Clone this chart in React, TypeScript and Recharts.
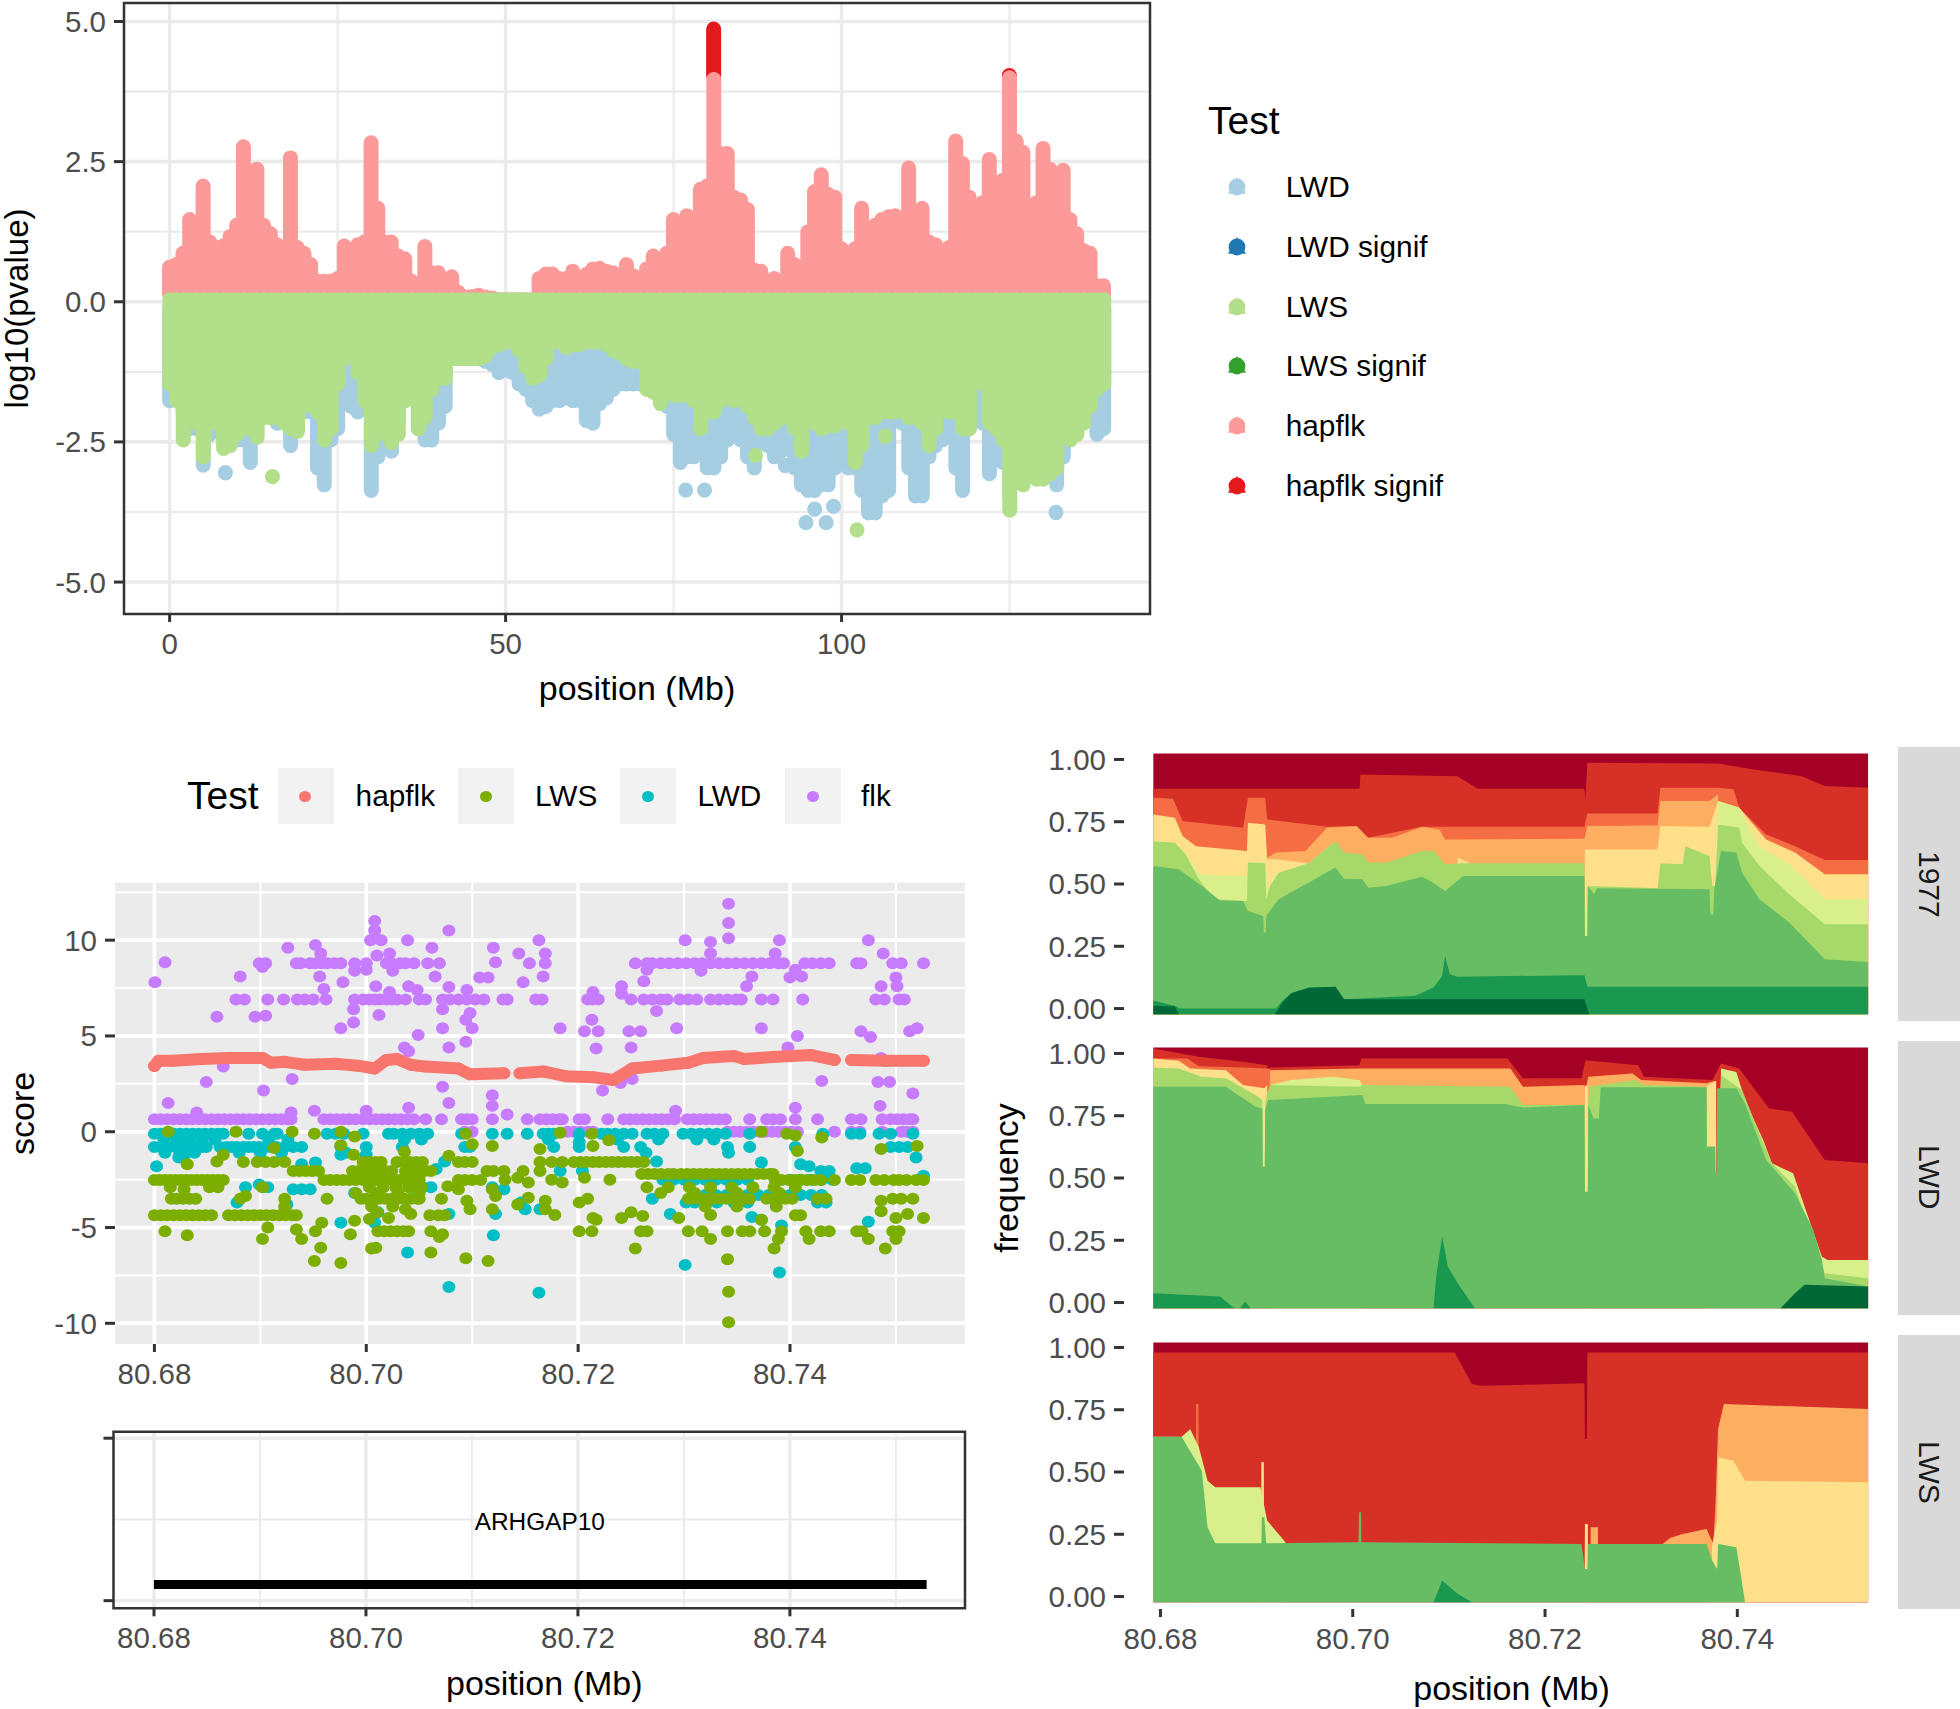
import React from "react";
import {
  Area, Bar, CartesianGrid, ComposedChart, Line, ReferenceArea, ReferenceDot, Scatter, ScatterChart, XAxis, YAxis,
} from "recharts";

const FONT = "'Liberation Sans', Arial, sans-serif";

// ---- genome wide panel: outer edge of the cloud of points per Mb (0..139)
const hapflkTop = [
  0.75, 0.8, 1.0, 1.6, 1.5, 2.2, 1.2, 1.1, 1.13, 1.3,
  1.5, 2.9, 2.3, 2.5, 1.5, 1.35, 1.15, 1.0, 2.7, 1.1,
  1.0, 0.8, 0.5, 0.5, 0.5, 0.55, 1.13, 1.0, 1.15, 1.2,
  2.97, 1.8, 1.2, 1.2, 0.95, 0.9, 0.5, 0.35, 1.12, 0.65,
  0.65, 0.5, 0.58, 0.3, 0.22, 0.23, 0.25, 0.22, 0.2, 0.17,
  0.17, 0.17, 0.17, 0.17, 0.17, 0.55, 0.63, 0.63, 0.55, 0.55,
  0.68, 0.55, 0.62, 0.72, 0.73, 0.68, 0.65, 0.6, 0.8, 0.6,
  0.35, 0.72, 0.95, 0.7, 1.0, 1.6, 1.4, 1.67, 1.5, 2.14,
  2.2, 4.1, 2.78, 2.78, 2.0, 1.95, 1.78, 0.7, 0.68, 0.5,
  0.55, 0.5, 1.0, 0.8, 0.75, 1.38, 2.1, 2.4, 2.05, 2.0,
  1.08, 0.9, 1.08, 1.8, 1.45, 1.5, 1.6, 1.65, 1.67, 1.5,
  2.52, 1.7, 1.8, 1.2, 1.15, 0.6, 1.1, 3.0, 2.6, 2.0,
  1.83, 1.9, 2.67, 2.0, 2.3, 4.13, 3.0, 2.8, 1.85, 1.9,
  2.87, 2.5, 2.3, 2.48, 1.6, 1.35, 1.05, 1.0, 0.42, 0.42,
];
const lwsBottom = [
  -1.6, -1.9, -2.6, -2.2, -2.3, -2.9, -2.3, -2.3, -2.75, -2.7,
  -2.5, -2.4, -2.4, -2.55, -2.2, -2.2, -2.2, -2.3, -2.4, -2.45,
  -1.9, -2.0, -2.1, -2.6, -2.4, -1.6, -1.15, -1.05, -1.4, -1.9,
  -2.7, -2.5, -2.2, -2.65, -2.5, -1.9, -1.85, -2.4, -2.2, -1.7,
  -1.5, -1.5, -1.15, -1.15, -1.15, -1.15, -1.15, -1.1, -0.95, -0.9,
  -0.85, -0.85, -1.0, -1.3, -1.5, -1.45, -1.15, -0.85, -0.85, -0.95,
  -0.9, -0.9, -0.85, -0.85, -0.85, -0.9, -1.0, -1.05, -1.15, -1.2,
  -1.2, -1.7, -1.75, -1.95, -1.7, -1.8, -1.8, -1.8, -1.9, -2.4,
  -2.1, -2.1, -1.9, -1.8, -1.9, -1.8, -2.0, -2.2, -2.4, -2.4,
  -2.3, -2.2, -2.2, -2.4, -2.8, -2.2, -2.3, -2.4, -2.35, -2.35,
  -2.2, -2.3, -3.0, -2.7, -2.2, -2.2, -2.1, -2.1, -2.1, -2.1,
  -2.2, -2.2, -2.3, -2.7, -2.4, -2.0, -2.1, -2.1, -2.4, -2.4,
  -1.5, -1.6, -2.3, -2.4, -2.6, -3.85, -3.3, -3.4, -3.2, -3.3,
  -3.3, -3.2, -3.1, -2.4, -2.6, -2.5, -2.3, -2.0, -1.7, -1.6,
];
const lwdBottom = [
  -1.9, -1.8, -2.1, -2.4, -2.4, -3.05, -2.5, -2.4, -2.5, -2.5,
  -2.6, -2.6, -3.0, -2.3, -2.1, -2.1, -2.3, -2.2, -2.7, -2.3,
  -2.1, -2.1, -3.1, -3.4, -2.6, -2.4, -1.9, -2.0, -2.1, -2.0,
  -3.5, -2.9, -2.7, -2.8, -2.3, -1.9, -1.8, -2.4, -2.6, -2.6,
  -2.3, -2.0, -1.15, -1.15, -1.15, -1.15, -1.15, -1.2, -1.25, -1.4,
  -1.35, -1.4, -1.6, -1.7, -1.9, -2.05, -2.0, -1.9, -1.9, -1.85,
  -1.9, -1.9, -2.25, -2.3, -1.95, -1.85, -1.7, -1.6, -1.6, -1.6,
  -1.6, -1.6, -1.7, -1.8, -2.0, -2.5, -3.0, -2.9, -2.9, -2.6,
  -3.1, -3.1, -2.9, -2.6, -2.4, -2.6, -2.9, -3.1, -2.6, -2.7,
  -2.9, -2.8, -2.7, -3.1, -3.4, -3.5, -3.5, -3.4, -3.4, -3.1,
  -3.0, -3.1, -3.1, -3.5, -3.9, -3.9, -3.6, -3.5, -2.2, -2.3,
  -3.1, -3.6, -3.6, -2.9, -2.7, -2.6, -2.4, -3.1, -3.5, -2.4,
  -2.1, -2.3, -3.2, -2.9, -3.0, -3.6, -3.0, -2.9, -2.8, -2.8,
  -2.9, -3.0, -3.4, -2.9, -2.5, -2.0, -2.0, -2.1, -2.5, -2.4,
];
const lwsTop = 0.17;
const signifRanges: Record<number, [number, number]> = { 81: [3.9, 5.0], 125: [3.9, 4.17] };
const lwdLoose = [
  { x: 8.3, y: -3.05 }, { x: 76.8, y: -3.36 }, { x: 79.6, y: -3.36 }, { x: 91.6, y: -2.92 },
  { x: 131.9, y: -3.76 }, { x: 94.7, y: -3.94 }, { x: 97.7, y: -3.94 }, { x: 96, y: -3.7 }, { x: 98.8, y: -3.65 },
];
const lwsLoose = [{ x: 15.3, y: -3.12 }, { x: 102.3, y: -4.07 }, { x: 87.2, y: -2.74 }, { x: 106.5, y: -2.4 }];

const manhattanRows = hapflkTop.map((top, i) => ({
  x: i,
  signif: signifRanges[i] ?? null,
  hapflk: [0, top],
  lwd: [lwdBottom[i], 0],
  lws: [lwsBottom[i], lwsTop],
}));

// ---- zoomed score panel, positions in kb after 80.68 Mb
const flkRows: [number, number[]][] = [
  [8.8, [9.9, 10.5, 13.4, 13.8, 14.7, 15.2, 15.8, 16.3, 17, 17.6, 18.9, 20, 21.9, 22.4, 23.2, 23.7, 24.5, 25.8, 26.9,
    45.4, 46.5, 47, 47.8, 48.6, 49.4, 50.2, 51, 51.7, 52.5, 53.3, 54.1, 54.9, 55.7, 56.5, 57.3, 58.1, 58.9, 59.4,
    61.4, 62.1, 62.9, 63.7, 66.3, 66.7, 69.7, 70.5, 72.6]],
  [6.9, [7.7, 8.5, 10.7, 12.2, 13.5, 14.2, 15, 16.2, 18.9, 19.7, 20.3, 20.8, 21.3, 21.9, 22.4, 22.9, 23.7, 25, 25.6,
    27.2, 27.9, 28.7, 29.5, 30.3, 31.1, 32.9, 33.3, 36, 36.6, 40.9, 41.4, 41.9, 45, 46.2, 47, 47.8, 48.4, 49.6, 50.4,
    51.2, 52.5, 53.3, 54.1, 54.9, 55.4, 57.3, 58.4, 61.2, 68.1, 68.9, 70.3, 70.8]],
  [0.65, [0, 0.6, 1.2, 1.8, 2.4, 3, 3.6, 4.2, 4.8, 5.4, 6, 6.6, 7.2, 7.8, 8.4, 9, 9.6, 10.2, 10.8, 11.4, 12, 12.6, 12.9,
    16, 16.6, 17.2, 17.8, 18.4, 19, 19.7, 20.3, 20.9, 21.5, 22.1, 22.7, 23.3, 23.9, 24.5, 25.6, 27.1, 29, 29.5, 30,
    31.9, 35.2, 36.4, 37, 37.6, 38.2, 38.5, 40.1, 40.6, 42.8, 44.3, 44.9, 45.5, 46.1, 46.7, 47.3, 47.9, 48.5, 49.1,
    50.3, 50.9, 51.5, 52.1, 52.7, 53.3, 53.9, 56.2, 57.8, 58.4, 59.1, 60.5, 62.6, 65.8, 66.7, 68.7, 69.5, 70.1, 70.7,
    71.3, 71.6]],
  [0, [29.3, 30, 39, 39.6, 40.2, 40.9, 41.4, 54.1, 54.7, 55.3, 55.9, 56.5, 57.1, 57.7, 58.3, 58.9, 59.5, 60.1, 60.7,
    64.2, 65.8, 66.6, 68.7, 70.5, 71, 71.6]],
];
const flkLoose: [number, number][] = [
  [0.05, 7.8], [1, 8.85], [8.1, 8.1], [12.6, 9.6], [15.2, 9.75], [15.7, 9.3], [15.6, 8.1], [16, 7.45], [17.8, 7.8],
  [5.9, 6], [9.5, 6], [10.5, 6.05], [10.2, 8.6], [17.6, 5.4], [18.8, 5.7], [18.8, 6.4], [18.9, 8.4], [20, 8.45],
  [20.8, 11], [20.8, 10.5], [20.4, 10], [21.4, 10], [21, 9.2], [22.2, 9.3], [22.5, 8.4], [21.2, 6.1], [20.9, 7.6],
  [22.2, 7.3], [23.9, 10], [24, 7.6], [24.8, 7.4], [26.2, 9.6], [26.5, 8.1], [27.8, 10.5], [27.8, 7.55], [27.2, 6.4],
  [27.2, 5.4], [24.9, 5.05], [27.8, 4.4], [23.6, 4.4], [24, 4.2], [29.4, 4.7], [29.4, 5.85], [30, 5.4], [29.8, 6.2],
  [29.5, 7.4], [30.7, 8.05], [31.5, 8.05], [32, 9.6], [32.2, 8.85], [34.4, 9.3], [34.8, 7.8], [35.4, 8.8], [36.3, 10],
  [36.9, 9.3], [36.7, 8.1], [36.9, 8.8], [38.3, 5.4], [40.6, 5.25], [41.9, 5.25], [41.7, 4.35], [41.3, 5.85], [41.4, 7.3],
  [44.1, 7.6], [44.1, 7.2], [44.8, 5.25], [45.9, 5.25], [45, 4.4], [47.4, 6.3], [49.3, 5.4], [46.2, 7.85], [46.5, 8.45],
  [50.1, 10], [52.5, 9.9], [54.2, 11.9], [54.2, 10.9], [54.2, 10.1], [59, 10], [52.5, 9.3], [51.6, 8.4], [55.9, 7.6],
  [56.4, 8.1], [57.3, 5.4], [59.8, 4.4], [60.7, 5], [60, 8.05], [60.5, 8.45], [61.1, 8.1], [58.6, 9.3], [67.4, 10],
  [68.8, 9.3], [70, 8.05], [68.6, 7.6], [70.1, 7.6], [66.7, 5.25], [67.6, 4.95], [71.3, 5.25], [72, 5.4], [68.6, 3.85],
  [6.5, 3.4], [4.9, 2.6], [13, 2.75], [10.3, 2.15], [1.3, 1.5], [15.1, 1.1], [20, 1.1], [24, 1.25], [27.2, 2.35],
  [27.8, 1.5], [31.9, 1.9], [31.9, 1.35], [33.3, 0.9], [42.3, 2.15], [44, 2.55], [45.1, 2.75], [49.2, 1.1], [60.5, 1.25],
  [63, 2.65], [68.3, 2.6], [69.4, 2.6], [71.6, 2], [68.5, 1.35], [4, 1], [12.9, 1],
];
const lwdRows: [number, number[]][] = [
  [-0.1, [0, 0.6, 1.2, 1.8, 2.4, 3, 3.6, 4.2, 4.8, 5.4, 6, 6.5, 8.9, 10.2, 11.3, 11.6, 16.3, 17.1, 17.9, 19.7, 22.1, 22.6,
    23.4, 24.2, 25, 25.8, 29, 31.9, 33.3, 35.2, 36.7, 37.2, 37.7, 40.1, 42.2, 42.8, 43.5, 44.3, 45.1, 46.5, 47.2, 48,
    49.9, 50.7, 51.5, 52.3, 53.1, 53.9, 56.2, 63.1, 65.8, 66.6, 68.4, 69.5, 71.6]],
  [-0.4, [0.9, 2.1, 3.3, 4.5, 5.7, 10.8, 12.6, 23.6, 25.2, 37.2, 43.7, 47.6, 51.2, 52.8]],
  [-0.8, [0, 0.6, 1.3, 2, 2.7, 3.3, 4, 4.5, 4.9, 6.2, 6.8, 7.3, 7.8, 8.4, 8.9, 9.4, 9.9, 10.5, 11, 11.5, 12.3, 13.1, 13.9,
    17.6, 20, 23.4, 29.3, 29.8, 37.7, 40.1, 44.3, 45.9, 54.1, 56.2, 60.5, 69.5, 70.3, 71.1]],
  [-1.1, [1, 2.4, 3.8, 8, 10, 12, 46.4, 54.2]],
  [-2.5, [48, 49, 50, 51, 52, 53, 54, 55, 56, 60, 61, 62, 63, 64]],
  [-3.3, [52, 53, 54, 55, 56, 57, 58, 59, 60, 61, 62, 63]],
];
const lwdLooseScores: [number, number][] = [
  [0.2, -1.8], [2.8, -1.25], [2.3, -1.35], [13.9, -1.7], [15.2, -1.6], [17.6, -1.2], [18.1, -1.1], [20, -1.2],
  [26.6, -1.95], [27.4, -1.55], [38.3, -2.05], [40.1, -0.55], [40.4, -2.05], [47.4, -1.55], [57.3, -1.6], [61, -1.7],
  [61.8, -1.8], [62.9, -2.05], [63.7, -2.05], [66.3, -1.9], [67.1, -1.9], [71.9, -1.35], [72.6, -2.3],
  [8.6, -2.9], [9.9, -2.75], [10.7, -2.9], [13.1, -3], [13.9, -3], [14.7, -3], [18.9, -3.2], [24.5, -2.9], [25.3, -2.9],
  [26.1, -2.9], [31.9, -2.9], [33, -3], [63.1, -3.45], [62.6, -3.45], [7.8, -3.7], [12.5, -3.8], [47, -3.5], [50.2, -3.7],
  [51, -3.7], [52, -3.7], [53.1, -3.7], [54.7, -3.7], [56, -3.7], [62.6, -3.7], [63.4, -3.7], [34.6, -3.7], [35, -4.05],
  [36.4, -4.05], [17.6, -4.75], [20.8, -4.75], [21.1, -4.2], [27.8, -4.3], [32.2, -4.3], [32, -5.4], [23.9, -6.3],
  [27.8, -8.1], [36.3, -8.4], [50.1, -6.95], [59, -7.35], [48.7, -4.3], [56.4, -4.45], [59.2, -4.9], [67.4, -4.7],
  [57.3, -4.6],
];
const lwsRows: [number, number[]][] = [
  [-1.58, [8.4, 9.7, 10.5, 11.3, 12.3, 39.6, 40.2, 40.8, 41.4, 42, 42.6, 43.2, 43.8, 44.4, 45, 45.6, 46.2, 19.7, 20.3, 20.9,
    21.4, 22.9, 23.5, 24.1, 24.7, 25.3, 28.7, 29.3, 30, 36.4, 37.5, 38.5]],
  [-2.05, [13.1, 13.7, 14.3, 14.9, 15.5, 18.7, 19.3, 20, 20.6, 21.2, 21.8, 22.4, 23.7, 24.3, 24.9, 25.5, 26.1, 31.4, 32, 33,
    34.8, 36.4]],
  [-2.2, [46, 46.6, 47.2, 47.8, 48.5, 49, 49.7, 50.3, 50.9, 51.5, 52.1, 52.7, 53.3, 53.9, 54.5, 55.1, 55.7, 56.3, 56.9, 57.5,
    58.1, 58.4]],
  [-2.52, [0, 0.5, 1, 1.5, 2, 2.5, 3, 3.5, 4, 4.5, 5, 5.5, 6, 6.5, 16, 16.6, 17.2, 17.8, 18.4, 19, 19.7, 20.3, 21, 21.7,
    22.5, 23.1, 24, 24.5, 25, 28.7, 29.3, 30, 30.8, 61, 61.6, 62.3, 62.9, 64.2, 65.8, 66.6, 68.1, 68.9, 69.8, 70.3, 71,
    71.9, 72.6, 58.6, 59.2, 59.9, 60.5]],
  [-2.9, [20.3, 21.6, 22.8, 24, 25.2, 46.5, 48.5, 50.5, 52.5, 54.5, 56.5, 58.5, 60.5]],
  [-3.2, [19, 21, 23, 25, 47.8, 51, 55, 59]],
  [-3.5, [1.6, 2.1, 2.7, 3.3, 3.9, 8.1, 12.3, 16.3, 19.5, 20, 20.6, 21.2, 21.8, 22.4, 23, 23.6, 24.2, 24.8, 25, 27.1, 50.4,
    51, 51.6, 52.2, 52.8, 53.4, 54, 54.6, 55.2, 55.8, 56.2, 57.8, 58.4, 59, 59.6, 60.2, 62.6, 63.4, 69.7, 70.5, 71.6]],
  [-3.9, [20.5, 22.5, 52, 55, 58.7]],
  [-4.36, [0, 0.6, 1.2, 1.8, 2.4, 3, 3.6, 4.2, 4.8, 5.4, 7, 7.6, 8.2, 8.8, 9.4, 10, 10.6, 11.2, 11.8, 12.4, 13, 13.4, 26,
    26.8, 27.4, 60.5, 61]],
  [-5.2, [21.1, 21.7, 22.3, 22.9, 23.5, 24, 1, 40.1, 41.3, 45.9, 46.5, 50.4, 51.7, 54.1, 55.5, 56.2, 57.6, 59.2, 61.5, 62.9,
    63.7, 66.3, 66.8, 69.7, 70.3]],
];
const lwsLooseScores: [number, number][] = [
  [3.1, -5.4], [1.3, 0], [7.7, 0], [13, 0], [15.1, -0.1], [17.6, 0], [18.9, -0.25], [29.4, -0.1], [38.3, -0.05], [41.3, -0.1],
  [42.9, -0.45], [57.3, 0], [59.7, -0.1], [60.5, -0.2], [63, -0.3], [11.3, -0.85], [17.6, -0.7], [18.8, -1.2], [23.6, -1.05],
  [27.8, -1.25], [30, -0.65], [31.9, -0.75], [36.4, -0.9], [41.4, -0.75], [60.7, -1], [72, -0.75], [68.6, -0.9], [5.9, -1.55],
  [6.5, -1.2], [3.1, -1.7], [8.6, -3.35], [10.2, -2.9], [1.5, -2.9], [2.8, -3], [5.2, -2.9], [6, -2.9], [12.3, -3.9],
  [15.1, -6.75], [17.6, -6.85], [15.7, -6.05], [15.2, -5.2], [15.8, -4.75], [10.2, -5.6], [10.7, -5], [13.9, -5.6],
  [13.4, -5.1], [18.5, -5.35], [20.5, -6.1], [20.9, -6.05], [26.1, -6.3], [29.4, -6.6], [31.5, -6.75], [26.9, -5.5],
  [27.2, -5.35], [26.1, -5.2], [45.4, -6.1], [52.5, -5.6], [54.1, -6.65], [54.2, -8.35], [54.2, -9.95], [58.5, -6.1],
  [58.9, -5.6], [61.8, -5.6], [69, -6.1], [67.4, -5.6], [70, -5.6], [72.6, -4.5], [37.8, -4.35], [38.5, -2.65], [40.1, -3.7],
  [40.9, -3.5], [41.4, -4.5], [41.7, -4.6], [44.1, -4.5], [45, -4.2], [46.1, -4.4], [49.5, -4.5], [52.5, -4.35], [57.3, -4.6],
  [68.6, -4.15], [70, -4.5], [71.1, -4.3], [68.6, -3.6], [29.8, -4.05], [29.5, -3.6], [31.9, -4.05], [32.2, -3.35], [34.3, -3.8],
  [35.3, -3.45], [36.9, -3.6], [36.9, -4.05], [23.7, -4.05], [24.2, -4.3], [22.1, -4.5], [21, -4.2], [20.3, -4.55], [18.9, -4.65],
  [35.3, -2.65], [31.9, -3], [28.7, -3], [27.7, -2.85], [33.1, -2.5], [34.3, -2.4], [37.5, -2.5], [40.6, -2.4], [43, -2.5],
];
const hapflkPartA: [number, number][] = [
  [0, 3.43], [0.4, 3.7], [1.8, 3.7], [4.4, 3.8], [7, 3.85], [10.2, 3.85], [11, 3.6], [12.3, 3.65], [14.2, 3.5], [17.1, 3.55],
  [19.2, 3.45], [20.8, 3.3], [21.9, 3.75], [22.9, 3.8], [24.2, 3.5], [25.6, 3.4], [28.7, 3.3], [29.8, 3], [33, 3.05],
];
const hapflkPartB: [number, number][] = [
  [34.5, 3.05], [36.7, 3.15], [38.8, 2.9], [41.4, 2.85], [43.3, 2.7], [45.1, 3.3], [47.8, 3.45], [50.4, 3.6], [51.8, 3.85],
  [54.7, 3.95], [55.7, 3.8], [58.4, 3.9], [62, 4], [64.2, 3.75],
];
const hapflkPartC: [number, number][] = [[65.8, 3.75], [69, 3.7], [72.6, 3.7]];

const toMb = (kb: number) => 80.68 + kb / 1000;
const toPoints = (rows: [number, number[]][], loose: [number, number][]) => [
  ...rows.flatMap(([y, list]) => list.map((kb) => ({ x: toMb(kb), y }))),
  ...loose.map(([kb, y]) => ({ x: toMb(kb), y })),
];

// ---- allele frequency panels: top edge of each band, [kb after 80.68, frequency]
const bandColors = ["#a50026", "#d73027", "#f46d43", "#fdae61", "#fee08b", "#d9ef8b", "#a6d96a", "#66bd63", "#1a9850", "#006837"];
type Edge = [number, number][];
const bands1977: Edge[] = [
  [[-0.74, 1.024], [73.6, 1.024]],
  [[-0.74, 0.882], [20.7, 0.882], [20.8, 0.94], [30.9, 0.933], [33, 0.882], [44.1, 0.882], [44.2, 0.84], [44.4, 0.987], [58, 0.984], [61.7, 0.96], [66.7, 0.933], [69.1, 0.893], [73.6, 0.886]],
  [[-0.74, 0.846], [1.3, 0.842], [2.3, 0.753], [8.6, 0.726], [9.1, 0.846], [10.9, 0.846], [11.1, 0.759], [17.3, 0.73], [20.4, 0.733], [21.6, 0.686], [27.2, 0.73], [44.1, 0.73], [44.4, 0.783], [51.7, 0.783], [52, 0.886], [58, 0.886], [59.6, 0.88], [60.2, 0.806], [63, 0.699], [66, 0.652], [69.1, 0.596], [73.6, 0.596]],
  [[-0.74, 0.4], [11, 0.4], [11.1, 0.606], [12, 0.626], [15.1, 0.632], [17.3, 0.726], [20.4, 0.733], [21.6, 0.686], [24.1, 0.686], [27.2, 0.73], [29, 0.719], [29.6, 0.679], [31.5, 0.679], [44.1, 0.682], [44.4, 0.733], [51.7, 0.735], [52, 0.833], [57.1, 0.833], [58, 0.86], [58.1, 0.4], [73.6, 0.4]],
  [[-0.74, 0.779], [1.5, 0.766], [2.3, 0.693], [3.7, 0.652], [9, 0.632], [9.1, 0.746], [10.9, 0.739], [11.1, 0.599], [12, 0.599], [15.4, 0.583], [15.5, 0.4], [30.9, 0.4], [30.9, 0.606], [32.1, 0.586], [32.2, 0.4], [44.1, 0.4], [44.15, 0.639], [51.7, 0.639], [52, 0.733], [57.1, 0.73], [58, 0.833], [60.2, 0.806], [63, 0.679], [66, 0.626], [69.1, 0.539], [73.6, 0.539]],
  [[-0.74, 0.672], [1.5, 0.666], [2.6, 0.626], [4, 0.54], [5.6, 0.535], [9, 0.532], [9.1, 0.586], [10.9, 0.586], [11.1, 0.479], [12, 0.539], [15.4, 0.583], [18.2, 0.672], [19.1, 0.4], [57.7, 0.4], [58, 0.833], [60.2, 0.806], [62.3, 0.652], [65.4, 0.579], [69.1, 0.439], [73.6, 0.439]],
  [[-0.74, 0.672], [1.5, 0.666], [2.6, 0.619], [4, 0.519], [5.6, 0.439], [9, 0.432], [9.1, 0.586], [10.9, 0.583], [11, 0.439], [11.4, 0.492], [12.3, 0.545], [15.4, 0.583], [18.2, 0.672], [19.1, 0.626], [21, 0.619], [21.6, 0.586], [23.5, 0.586], [27.2, 0.632], [28.4, 0.632], [29.6, 0.579], [31.5, 0.583], [44.1, 0.583], [44.15, 0.29], [44.4, 0.29], [44.45, 0.492], [51.7, 0.483], [52, 0.583], [54.3, 0.579], [54.6, 0.652], [57.1, 0.612], [57.4, 0.492], [57.7, 0.492], [58, 0.739], [60.2, 0.726], [60.5, 0.666], [62.3, 0.572], [65.4, 0.459], [69.1, 0.338], [73.6, 0.338]],
  [[-0.74, 0.572], [1.9, 0.559], [4.3, 0.492], [6.2, 0.434], [8.6, 0.432], [9.1, 0.392], [10.7, 0.372], [10.75, 0.305], [10.95, 0.305], [11, 0.372], [12.3, 0.439], [15.4, 0.505], [18.2, 0.566], [19.1, 0.521], [21, 0.519], [21.6, 0.485], [23.5, 0.492], [27.2, 0.529], [28.4, 0.505], [29.6, 0.472], [31.5, 0.532], [44.1, 0.532], [44.15, 0.291], [44.4, 0.291], [44.45, 0.492], [45.1, 0.459], [45.4, 0.483], [57.1, 0.479], [57.2, 0.378], [57.5, 0.378], [57.6, 0.479], [58.3, 0.632], [59.9, 0.626], [60.5, 0.545], [62.3, 0.439], [65.4, 0.345], [69.1, 0.198], [73.6, 0.187]],
  [[-0.74, 0.031], [1.5, 0.011], [2, 0], [12, 0], [12.7, 0.031], [13.6, 0.061], [15.4, 0.083], [18.2, 0.088], [19.1, 0.037], [26.5, 0.051], [28.4, 0.084], [29.3, 0.131], [29.6, 0.211], [30.1, 0.138], [30.9, 0.128], [44.1, 0.134], [44.4, 0.088], [73.6, 0.088]],
  [[-0.74, 0.011], [1.5, 0.008], [1.9, -0.023], [11.9, -0.023], [12.7, 0.024], [13.6, 0.061], [15.4, 0.083], [18.2, 0.088], [19.1, 0.037], [44.1, 0.037], [44.6, -0.023], [73.6, -0.023]],
];
const bandsLwd: Edge[] = [
  [[-0.74, 1.024], [73.6, 1.024]],
  [[-0.74, 1.02], [4, 0.987], [8.6, 0.967], [11.1, 0.953], [11.3, 0.806], [11.4, 0.944], [20.7, 0.953], [20.9, 0.98], [36.1, 0.98], [37.7, 0.9], [43.8, 0.9], [44.2, 0.973], [49.7, 0.953], [50.3, 0.906], [57.4, 0.893], [58.3, 0.96], [60.2, 0.94], [63.3, 0.779], [65.7, 0.766], [69.1, 0.572], [73.6, 0.559]],
  [[-0.74, 0.98], [2.8, 0.98], [4, 0.949], [8.6, 0.944], [11.1, 0.94], [11.4, 0.94], [11.45, -0.023], [73.6, -0.023]],
  [[-0.74, -0.023], [11.1, -0.023], [11.4, 0.933], [20.7, 0.94], [36.4, 0.94], [37.7, 0.866], [44.1, 0.873], [44.2, 0.85], [44.5, 0.906], [49.1, 0.92], [50, 0.893], [56.8, 0.88], [57.7, 0.89], [57.75, -0.023], [73.6, -0.023]],
  [[-0.74, 0.98], [1.9, 0.971], [3.1, 0.94], [6.8, 0.933], [8.6, 0.873], [10.8, 0.86], [11.1, 0.873], [11.15, -0.023], [44.1, -0.023], [44.15, 0.87], [44.45, 0.87], [44.5, -0.023], [56.8, -0.023], [56.85, 0.87], [57.8, 0.89], [57.85, -0.023], [73.6, -0.023]],
  [[-0.74, -0.023], [10.55, -0.023], [10.6, 0.813], [10.8, 0.813], [10.85, -0.023], [11.3, -0.023], [11.4, 0.873], [13.6, 0.893], [17.9, 0.906], [20.7, 0.893], [21, 0.873], [21.1, -0.023], [57.9, -0.023], [58.3, 0.94], [59.9, 0.926], [60.8, 0.813], [62.7, 0.652], [63.6, 0.559], [65.8, 0.519], [68.8, 0.184], [69.4, 0.171], [73.6, 0.171]],
  [[-0.74, 0.944], [1.9, 0.94], [4.3, 0.906], [6.8, 0.9], [9.9, 0.833], [10.6, 0.813], [10.62, 0.5], [10.85, 0.5], [10.9, 0.8], [11.1, 0.84], [11.4, 0.873], [20.7, 0.866], [21.1, 0.873], [36.4, 0.866], [37.7, 0.793], [44.1, 0.793], [44.15, 0.4], [44.45, 0.4], [44.5, 0.793], [44.6, 0.866], [49.4, 0.893], [50.3, 0.873], [56.8, 0.866], [56.85, 0.4], [57.85, 0.4], [58.3, 0.913], [60.5, 0.853], [62.7, 0.639], [63.6, 0.559], [66, 0.465], [68.5, 0.184], [69.1, 0.118], [73.6, 0.098]],
  [[-0.74, 0.866], [6.8, 0.866], [9.9, 0.786], [10.6, 0.779], [10.65, 0.545], [10.85, 0.545], [10.9, 0.773], [11.2, 0.813], [21, 0.833], [21.3, 0.797], [35.8, 0.797], [37.7, 0.783], [44.1, 0.793], [44.15, 0.445], [44.45, 0.445], [44.5, 0.793], [45.05, 0.739], [45.6, 0.739], [45.8, 0.864], [56.8, 0.864], [56.85, 0.626], [57.7, 0.626], [57.75, 0.519], [57.85, 0.519], [57.9, 0.86], [59.9, 0.86], [60.8, 0.799], [63, 0.572], [66, 0.439], [67.9, 0.291], [68.8, 0.171], [69.1, 0.098], [73.6, 0.064]],
  [[-0.74, 0.037], [6.2, 0.024], [7.7, -0.023], [8.3, -0.023], [8.8, 0.004], [9.4, -0.023], [28.4, -0.023], [28.7, 0.111], [29.3, 0.265], [29.9, 0.144], [30.9, 0.078], [32.7, -0.023], [73.6, -0.023]],
  [[-0.74, -0.023], [64.5, -0.023], [66, 0.037], [67, 0.071], [73.6, 0.064]],
];
const bandsLws: Edge[] = [
  [[-0.74, 1.02], [73.6, 1.02]],
  [[-0.74, 0.98], [30.6, 0.98], [32.4, 0.853], [33.3, 0.846], [44.1, 0.856], [44.15, 0.632], [44.35, 0.632], [44.4, 0.98], [73.6, 0.98]],
  [[-0.74, -0.023], [3.65, -0.023], [3.7, 0.773], [3.95, 0.773], [4.1, -0.023], [73.6, -0.023]],
  [[-0.74, -0.023], [44.7, -0.023], [44.75, 0.278], [45.5, 0.278], [45.55, -0.023], [51.9, 0.2], [53, 0.235], [54.3, 0.251], [56.8, 0.271], [57.5, 0.211], [57.7, 0.338], [58, 0.672], [58.6, 0.773], [73.6, 0.753]],
  [[-0.74, -0.023], [10.45, -0.023], [10.5, 0.54], [10.75, 0.54], [10.8, -0.023], [44.1, -0.023], [44.15, 0.291], [44.45, 0.291], [44.5, -0.023], [57.1, -0.023], [57.4, 0.211], [57.9, 0.305], [58, 0.559], [59.6, 0.545], [60.8, 0.465], [73.6, 0.459]],
  [[-0.74, 0.642], [2.2, 0.642], [3.1, 0.672], [4, 0.599], [4.9, 0.465], [5.7, 0.439], [10.4, 0.439], [11.1, 0.305], [13, 0.218], [13.1, -0.023], [73.6, -0.023]],
  [[-0.74, -0.023], [73.6, -0.023]],
  [[-0.74, 0.642], [2.2, 0.642], [4.3, 0.505], [4.9, 0.278], [5.7, 0.214], [10.5, 0.214], [10.55, 0.318], [10.8, 0.318], [11, 0.214], [20.6, 0.218], [20.65, 0.338], [20.85, 0.338], [20.9, 0.218], [43.8, 0.211], [44.15, 0.111], [44.4, 0.111], [44.45, 0.211], [56.8, 0.211], [57.4, 0.144], [57.9, 0.111], [58, 0.211], [59.9, 0.198], [60.4, 0.078], [60.8, -0.023], [73.6, -0.023]],
  [[-0.74, -0.023], [28.4, -0.023], [29.3, 0.064], [30.9, 0.011], [32.4, -0.023], [73.6, -0.023]],
];

const geneSpan = [{ x: 80.68, y: 0.1 }, { x: 80.7529, y: 0.1 }];
const geneLabel = "ARHGAP10";
const topLegend = [
  { name: "LWD", color: "#a6cee3" }, { name: "LWD signif", color: "#1f78b4" },
  { name: "LWS", color: "#b2df8a" }, { name: "LWS signif", color: "#33a02c" },
  { name: "hapflk", color: "#fb9a99" }, { name: "hapflk signif", color: "#e31a1c" },
];
const scoreLegend = [
  { name: "hapflk", color: "#F8766D", box: 277.6, dot: 305, text: 355.6 },
  { name: "LWS", color: "#7CAE00", box: 458, dot: 485.6, text: 535 },
  { name: "LWD", color: "#00BFC4", box: 620.3, dot: 648.4, text: 697.4 },
  { name: "flk", color: "#C77CFF", box: 784.6, dot: 812.8, text: 861 },
];

const mbTicks = [80.68, 80.7, 80.72, 80.74];
const mbMinor = [80.69, 80.71, 80.73, 80.75];
const tickStyle = { fill: "#4d4d4d", fontSize: 29.5, fontFamily: FONT };
const tickLine = { stroke: "#333333", strokeWidth: 3 };
const titleStyle = { fill: "#000000", fontSize: 34, fontFamily: FONT, textAnchor: "middle" as const };

const scoreDot = (color: string) => (p: any) => <ellipse cx={p.cx} cy={p.cy} rx={6.5} ry={6} fill={color} />;
const pageDot = (color: string) => (p: any) => <ellipse cx={p.cx} cy={p.cy} rx={7.5} ry={7.7} fill={color} />;

// capsule as wide as the plotted points, running over the value range of the bar
const capsule = (color: string) => (p: any) => {
  if (!Number.isFinite(p.height) || p.height === 0) return <g />;
  const h = Math.abs(p.height);
  const y = p.height < 0 ? p.y + p.height : p.y;
  return <rect x={p.x + p.width / 2 - 7.5} y={y} width={15} height={h} rx={7.5} ry={7.5} fill={color} />;
};

function ManhattanPanel() {
  return (
    <div style={{ position: "absolute", left: 0, top: 0 }}>
      <ComposedChart width={1160} height={710} data={manhattanRows} margin={{ top: 3, right: 10, bottom: 0, left: 0 }} barSize={1} barGap={-1}>
        <CartesianGrid stroke="#ebebeb" strokeWidth={2.2} horizontalValues={[-3.75, -1.25, 1.25, 3.75]} verticalValues={[25, 75, 125]} />
        <CartesianGrid stroke="#ebebeb" strokeWidth={3.6} horizontalValues={[-5, -2.5, 0, 2.5, 5]} verticalValues={[0, 50, 100]} />
        <XAxis
          type="number" dataKey="x" domain={[-6.79, 145.9]} ticks={[0, 50, 100]} interval={0} height={96} axisLine={false}
          tick={tickStyle} tickLine={tickLine} tickSize={8} tickMargin={11} allowDataOverflow
          label={{ value: "position (Mb)", position: "insideBottom", offset: 10.5, style: titleStyle }}
        />
        <YAxis
          type="number" domain={[-5.57, 5.33]} ticks={[-5, -2.5, 0, 2.5, 5]} interval={0} width={124} axisLine={false}
          tick={tickStyle} tickLine={tickLine} tickSize={10} tickMargin={8} tickFormatter={(v: number) => v.toFixed(1)} allowDataOverflow
          label={{ value: "log10(pvalue)", angle: -90, position: "insideLeft", offset: 0, dx: 16, style: { ...titleStyle, fontSize: 33 } }}
        />
        <Bar dataKey="signif" shape={capsule("#e31a1c")} isAnimationActive={false} />
        <Bar dataKey="hapflk" shape={capsule("#fb9a99")} isAnimationActive={false} />
        <Bar dataKey="lwd" shape={capsule("#a6cee3")} isAnimationActive={false} />
        <Bar dataKey="lws" shape={capsule("#b2df8a")} isAnimationActive={false} />
        <Scatter data={lwdLoose} dataKey="y" shape={pageDot("#a6cee3")} isAnimationActive={false} />
        <Scatter data={lwsLoose} dataKey="y" shape={pageDot("#b2df8a")} isAnimationActive={false} />
        <ReferenceArea x1={-6.79} x2={145.9} y1={-5.57} y2={5.33} fill="none" stroke="#333333" strokeWidth={2.5} />
      </ComposedChart>
    </div>
  );
}

function ScorePanel() {
  const hapflkLine = { stroke: "#F8766D", strokeWidth: 12, strokeLinecap: "round" as const, strokeLinejoin: "round" as const };
  const asPoints = (part: [number, number][]) => part.map(([kb, y]) => ({ x: toMb(kb), y }));
  return (
    <div style={{ position: "absolute", left: 0, top: 860 }}>
      <ScatterChart width={975} height={550} margin={{ top: 22.7, right: 10, bottom: 0, left: 0 }}>
        <CartesianGrid fill="#ebebeb" stroke="#ffffff" strokeWidth={2} horizontalValues={[-7.5, -2.5, 2.5, 7.5, 12.5]} verticalValues={mbMinor} />
        <CartesianGrid stroke="#ffffff" strokeWidth={3.5} horizontalValues={[-10, -5, 0, 5, 10]} verticalValues={mbTicks} />
        <XAxis
          type="number" dataKey="x" domain={[80.67628, 80.75652]} ticks={mbTicks} interval={0} height={66} axisLine={false}
          tick={tickStyle} tickLine={tickLine} tickSize={8} tickMargin={11} tickFormatter={(v: number) => v.toFixed(2)} allowDataOverflow
        />
        <YAxis
          type="number" dataKey="y" domain={[-11.08, 13]} ticks={[-10, -5, 0, 5, 10]} interval={0} width={115} axisLine={false}
          tick={tickStyle} tickLine={tickLine} tickSize={10} tickMargin={8} allowDataOverflow
          label={{ value: "score", angle: -90, position: "insideLeft", offset: 0, dx: 22, style: titleStyle }}
        />
        <Scatter data={toPoints(flkRows, flkLoose)} shape={scoreDot("#C77CFF")} isAnimationActive={false} />
        <Scatter data={toPoints(lwdRows, lwdLooseScores)} shape={scoreDot("#00BFC4")} isAnimationActive={false} />
        <Scatter data={toPoints(lwsRows, lwsLooseScores)} shape={scoreDot("#7CAE00")} isAnimationActive={false} />
        <Scatter data={asPoints(hapflkPartA)} line={hapflkLine} shape={scoreDot("#F8766D")} isAnimationActive={false} />
        <Scatter data={asPoints(hapflkPartB)} line={hapflkLine} shape={scoreDot("#F8766D")} isAnimationActive={false} />
        <Scatter data={asPoints(hapflkPartC)} line={hapflkLine} shape={scoreDot("#F8766D")} isAnimationActive={false} />
      </ScatterChart>
    </div>
  );
}

function GenePanel() {
  return (
    <div style={{ position: "absolute", left: 0, top: 1420 }}>
      <ComposedChart width={975} height={285} margin={{ top: 11.7, right: 10, bottom: 0, left: 0 }}>
        <CartesianGrid stroke="#ebebeb" strokeWidth={2} horizontalValues={[0.5]} verticalValues={mbMinor} />
        <CartesianGrid stroke="#ebebeb" strokeWidth={3.5} horizontalValues={[0, 1]} verticalValues={mbTicks} />
        <XAxis
          type="number" dataKey="x" domain={[80.67618, 80.75652]} ticks={mbTicks} interval={0} height={96.7} axisLine={false}
          tick={tickStyle} tickLine={tickLine} tickSize={8} tickMargin={11} tickFormatter={(v: number) => v.toFixed(2)} allowDataOverflow
          label={{ value: "position (Mb)", position: "insideBottom", offset: 10, dx: 5, style: titleStyle }}
        />
        <YAxis
          type="number" domain={[-0.047, 1.04]} ticks={[0, 1]} interval={0} width={113.5} axisLine={false}
          tick={tickStyle} tickLine={tickLine} tickSize={10} tickFormatter={() => ""} allowDataOverflow
        />
        <Line data={geneSpan} dataKey="y" stroke="#000000" strokeWidth={9} dot={false} isAnimationActive={false} />
        <ReferenceDot
          x={80.7164} y={0.49} r={0} fill="none" stroke="none"
          label={{ value: geneLabel, position: "center", fill: "#000000", fontSize: 24.4, fontFamily: FONT }}
        />
        <ReferenceArea x1={80.67618} x2={80.75652} y1={-0.047} y2={1.04} fill="none" stroke="#333333" strokeWidth={2.5} />
      </ComposedChart>
    </div>
  );
}

const PANEL_HEIGHT = 274;
const PANEL_PAD = 20;

function FrequencyPanel({ edges, top, strip, xAxis, yTitle }: { edges: Edge[]; top: number; strip: string; xAxis?: boolean; yTitle?: boolean }) {
  return (
    <>
      <div style={{ position: "absolute", left: 960, top: top - PANEL_PAD }}>
        <ComposedChart
          width={937}
          height={PANEL_HEIGHT + PANEL_PAD + (xAxis ? 100 : PANEL_PAD)}
          margin={{ top: PANEL_PAD, right: 2, bottom: xAxis ? 0 : PANEL_PAD, left: 0 }}
        >
          <XAxis
            type="number" dataKey="x" domain={[80.67621, 80.7564]} ticks={mbTicks} interval={0} height={100} hide={!xAxis} axisLine={false}
            tick={tickStyle} tickLine={tickLine} tickSize={8} tickMargin={11} tickFormatter={(v: number) => v.toFixed(2)} allowDataOverflow
            label={xAxis ? { value: "position (Mb)", position: "insideBottom", offset: 9, dx: 2, style: titleStyle } : undefined}
          />
          <YAxis
            type="number" domain={[-0.05, 1.05]} ticks={[0, 0.25, 0.5, 0.75, 1]} interval={0} width={164} axisLine={false}
            tick={tickStyle} tickLine={tickLine} tickSize={10} tickMargin={8} tickFormatter={(v: number) => v.toFixed(2)} allowDataOverflow
            label={yTitle ? { value: "frequency", angle: -90, position: "insideLeft", offset: 0, dx: 46, style: titleStyle } : undefined}
          />
          {edges.map((edge, i) => (
            <Area
              key={i}
              data={edge.map(([kb, f]) => ({ x: toMb(kb), f }))}
              dataKey="f"
              type="linear"
              baseValue={-0.023}
              stroke="none"
              fill={bandColors[i]}
              fillOpacity={1}
              dot={false}
              activeDot={false}
              isAnimationActive={false}
            />
          ))}
        </ComposedChart>
      </div>
      <div
        style={{
          position: "absolute", left: 1897.7, top, width: 62.3, height: PANEL_HEIGHT, background: "#d9d9d9", color: "#1a1a1a",
          display: "flex", alignItems: "center", justifyContent: "center", writingMode: "vertical-rl", fontSize: 30,
        }}
      >
        {strip}
      </div>
    </>
  );
}

function Legends() {
  return (
    <>
      <div style={{ position: "absolute", left: 1208, top: 99, fontSize: 39, lineHeight: "44px" }}>Test</div>
      {topLegend.map((item, i) => (
        <React.Fragment key={item.name}>
          <svg style={{ position: "absolute", left: 1225, top: 175 + i * 59.8 }} width={24} height={24} viewBox="-12 -12 24 24">
            <circle r={8.4} fill={item.color} />
            <polygon points="0,-10 9,6.7 -9,6.7" fill={item.color} />
          </svg>
          <div style={{ position: "absolute", left: 1285.7, top: 170 + i * 59.8, fontSize: 29.8, lineHeight: "34px", whiteSpace: "nowrap" }}>{item.name}</div>
        </React.Fragment>
      ))}
      <div style={{ position: "absolute", left: 187, top: 774, fontSize: 39, lineHeight: "44px" }}>Test</div>
      {scoreLegend.map((item) => (
        <React.Fragment key={item.name}>
          <div style={{ position: "absolute", left: item.box, top: 768, width: 56, height: 56, background: "#f2f2f2" }} />
          <div style={{ position: "absolute", left: item.dot - 6, top: 790.5, width: 12, height: 11, borderRadius: "50%", background: item.color }} />
          <div style={{ position: "absolute", left: item.text, top: 779, fontSize: 29.8, lineHeight: "34px" }}>{item.name}</div>
        </React.Fragment>
      ))}
    </>
  );
}

export default function App() {
  return (
    <div style={{ position: "absolute", left: 0, top: 0, width: 1960, height: 1709, overflow: "hidden", background: "#ffffff", fontFamily: FONT }}>
      <ManhattanPanel />
      <ScorePanel />
      <GenePanel />
      <FrequencyPanel edges={bands1977} top={747} strip="1977" />
      <FrequencyPanel edges={bandsLwd} top={1040.7} strip="LWD" yTitle />
      <FrequencyPanel edges={bandsLws} top={1335} strip="LWS" xAxis />
      <Legends />
    </div>
  );
}
